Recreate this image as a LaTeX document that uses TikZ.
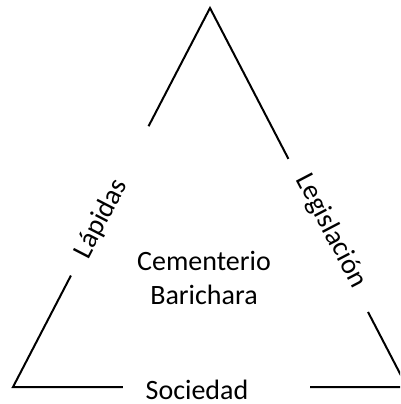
\documentclass[tikz,border=0pt]{standalone}
\usepackage{fontspec}
\setmainfont{Carlito}
\usetikzlibrary{calc}

\begin{document}
\begin{tikzpicture}[x=1pt,y=-1pt,
 side/.style={line width=2pt,line join=miter},
 lab/.style={font=\fontsize{28}{34}\selectfont,inner sep=0pt,align=center}]

  \useasboundingbox (0,0) rectangle (400,404);
  \clip (0,0) rectangle (400,404);

  % corners of the triangle
  \coordinate (top) at (210,8);
  \coordinate (bl) at (13,387);
  \coordinate (br) at (407,387);

  % labels
  \node[lab] (centre) at (204,278) {Cementerio\\Barichara};
  \node[lab,rotate=62.7] (lapidas) at (101,219) {Lápidas};
  \node[lab,rotate=-62.4] (legis) at (331,231) {Legislación};
  \node[lab] (soc) at (197,390) {Sociedad};

  % sides, broken where the labels sit
  \draw[side] ($(top)!0.312!(bl)$) -- (top) -- ($(top)!0.398!(br)$);
  \draw[side] ($(top)!0.706!(bl)$) -- (bl) -- ($(bl)!0.279!(br)$);
  \draw[side] ($(top)!0.802!(br)$) -- (br) -- ($(bl)!0.754!(br)$);

\end{tikzpicture}
\end{document}
